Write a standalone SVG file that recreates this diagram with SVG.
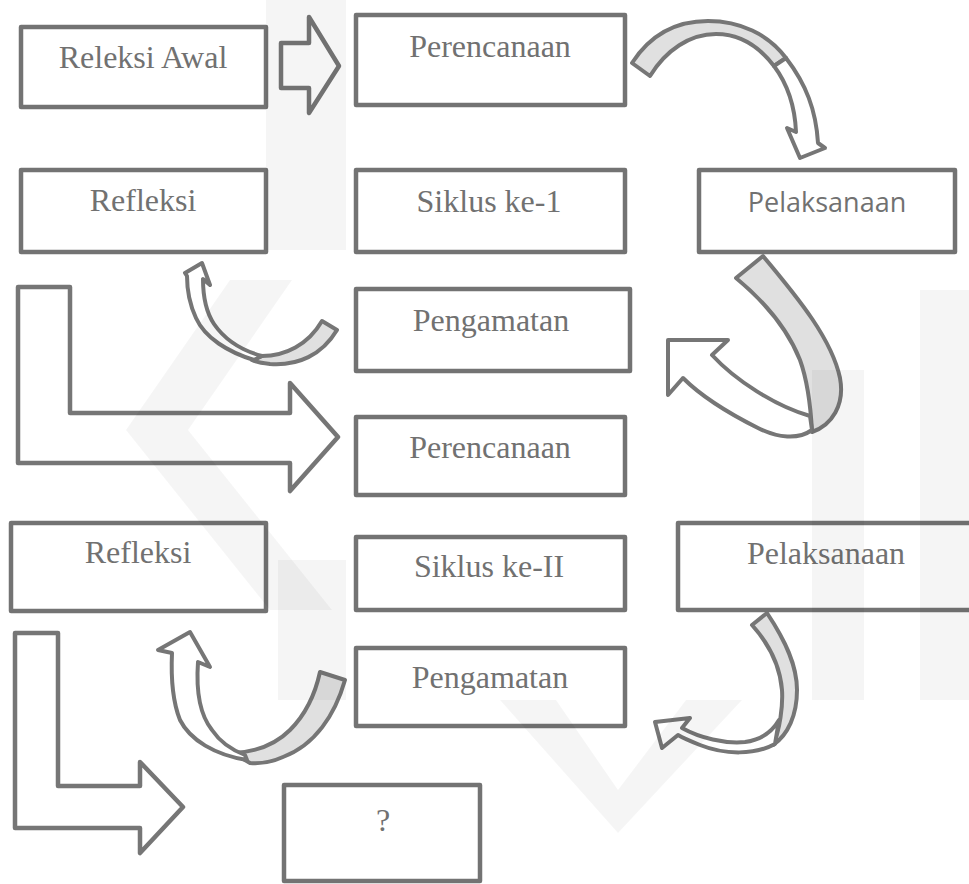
<svg xmlns="http://www.w3.org/2000/svg" width="969" height="884" viewBox="0 0 969 884">
<style>
.box{fill:#ffffff;stroke:#737373;stroke-width:4.5;stroke-linejoin:round}
.t{font-family:"Liberation Serif","Times New Roman",serif;font-size:32px;fill:#717171;text-anchor:middle}
.ts{font-family:"Open Sans","Noto Sans",sans-serif;font-size:27px;fill:#717171;text-anchor:middle}
.arr{fill:#ffffff;stroke:#767676;stroke-width:4.5;stroke-linejoin:round}
.back{fill:#e0e0e0;stroke:#767676;stroke-width:4;stroke-linejoin:round}
.front{fill:#ffffff;stroke:#767676;stroke-width:4;stroke-linejoin:round}
.wm{fill:#000000;fill-opacity:0.04;stroke:none}
</style>
<rect width="969" height="884" fill="#ffffff"/>

<g id="connectors">
  <polygon class="arr" points="281,43 309,43 309,17 339,66 309,113 309,88 281,88"/>
  <polygon class="arr" points="18,287 70,287 70,413 290,413 290,383 338,437 290,491 290,463 18,463"/>
  <polygon class="arr" points="15,633 58,633 58,786 140,786 140,762 183,807 140,853 140,828 15,828"/>
  <g id="curveA">
    <path class="back" d="M632,63 C652,32 680,21 708,21 C740,21 768,34 786,58 L774,66 C758,45 738,34 716,34 C690,34 666,50 650,76 Z"/>
    <path class="front" d="M786,58 C806,84 816,110 818,143 L825,148 L800,158 L787,128 L796,132 C795,108 789,86 774,66 Z"/>
  </g>
  <g id="curveB">
    <path class="back" d="M736,278 L763,256 C800,300 832,340 840,378 C845,405 832,425 812,432 C811,412 809,385 800,360 C788,330 765,302 736,278 Z"/>
    <path class="front" d="M812,430 C798,440 778,438 758,428 C730,414 700,395 683,378 L668,395 L668,340 L728,340 L712,355 C735,380 775,406 810,416 Z"/>
  </g>
  <g id="curveC">
    <path class="back" d="M322,321 L337,330 C322,355 298,366 270,364 C262,363 256,362 252,360 L262,356 C285,356 308,345 322,321 Z"/>
    <path class="front" d="M254,360 C228,352 205,338 196,318 C189,303 187,290 187,276 L185,273 L202,263 L210,285 L203,279 C203,295 206,312 214,324 C225,340 240,350 262,356 Z"/>
  </g>
  <g id="curveD">
    <path class="back" d="M752,625 L767,613 C785,640 797,665 797,690 C797,715 788,735 773,745 C780,730 783,705 782,690 C780,665 770,645 752,625 Z"/>
    <path class="front" d="M775,744 C755,755 725,755 700,745 C690,741 683,738 678,735 L662,748 L655,722 L690,718 L682,728 C700,738 725,744 745,742 C760,740 772,732 779,720 Z"/>
  </g>
  <g id="curveE">
    <path class="back" d="M320,672 L345,680 C335,715 315,745 283,757 C272,762 262,764 250,763 L233,753 C255,752 275,745 290,730 C305,715 315,695 320,672 Z"/>
    <path class="front" d="M247,760 C215,755 190,740 180,720 C172,700 171,675 172,653 L158,650 L190,632 L210,667 L198,662 C196,690 200,715 212,730 C220,742 232,750 245,755 Z"/>
  </g>
</g>

<g id="n-releksi-awal"><rect class="box" x="21" y="27" width="245" height="80"/><text class="t" x="143" y="68">Releksi Awal</text></g>
<g id="n-perencanaan-1"><rect class="box" x="356" y="15" width="269" height="90"/><text class="t" x="490" y="57">Perencanaan</text></g>
<g id="n-refleksi-1"><rect class="box" x="21" y="170" width="245" height="82"/><text class="t" x="143" y="211">Refleksi</text></g>
<g id="n-siklus-1"><rect class="box" x="356" y="170" width="269" height="82"/><text class="t" x="489" y="212">Siklus ke-1</text></g>
<g id="n-pelaksanaan-1"><rect class="box" x="699" y="170" width="256" height="82"/><text class="ts" x="827" y="212">Pelaksanaan</text></g>
<g id="n-pengamatan-1"><rect class="box" x="356" y="289" width="274" height="82"/><text class="t" x="491" y="331">Pengamatan</text></g>
<g id="n-perencanaan-2"><rect class="box" x="356" y="417" width="269" height="78"/><text class="t" x="490" y="458">Perencanaan</text></g>
<g id="n-refleksi-2"><rect class="box" x="11" y="523" width="255" height="88"/><text class="t" x="138" y="563">Refleksi</text></g>
<g id="n-siklus-2"><rect class="box" x="356" y="537" width="269" height="73"/><text class="t" x="489" y="577">Siklus ke-II</text></g>
<g id="n-pelaksanaan-2"><rect class="box" x="678" y="523" width="300" height="87"/><text class="t" x="826" y="564">Pelaksanaan</text></g>
<g id="n-pengamatan-2"><rect class="box" x="356" y="648" width="269" height="78"/><text class="t" x="490" y="688">Pengamatan</text></g>
<g id="n-unknown"><rect class="box" x="284" y="785" width="196" height="96"/><text class="t" x="383" y="831">?</text></g>

<g id="watermark">
  <rect class="wm" x="266" y="0" width="80" height="250"/>
  <polygon class="wm" points="230,280 292,280 188,430 332,610 270,610 126,430"/>
  <polygon class="wm" points="500,700 556,700 618,790 686,700 742,700 618,833"/>
  <rect class="wm" x="278" y="560" width="68" height="140"/>
  <rect class="wm" x="812" y="370" width="52" height="330"/>
  <rect class="wm" x="920" y="290" width="49" height="410"/>
</g>
</svg>
